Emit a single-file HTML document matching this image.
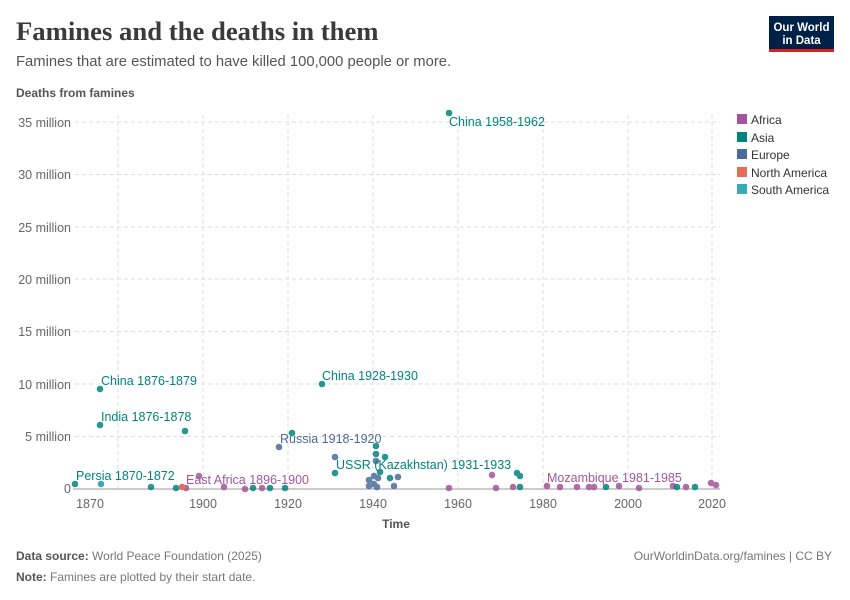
<!DOCTYPE html>
<html><head><meta charset="utf-8"><style>
body{margin:0;background:#fff;}
svg{display:block;font-family:"Liberation Sans",sans-serif;}
</style></head><body>
<svg width="850" height="600" viewBox="0 0 850 600">
<text x="16" y="40" font-family="Liberation Serif,serif" font-size="26.7" font-weight="bold" fill="#3a3a3a">Famines and the deaths in them</text>
<text x="16" y="66" font-size="14.8" fill="#555">Famines that are estimated to have killed 100,000 people or more.</text>
<text x="16" y="97" font-size="12" font-weight="bold" fill="#555">Deaths from famines</text>
<rect x="769" y="16" width="65" height="33" fill="#002147"/>
<rect x="769" y="49" width="65" height="3" fill="#ce261e"/>
<text x="801.5" y="31" font-size="11.5" fill="#fff" text-anchor="middle" font-weight="bold">Our World</text>
<text x="801.5" y="44" font-size="11.5" fill="#fff" text-anchor="middle" font-weight="bold">in Data</text>
<g stroke="#ddd" stroke-dasharray="4,3" stroke-width="1">
<line x1="75" x2="720" y1="122" y2="122"/><line x1="75" x2="720" y1="174.5" y2="174.5"/>
<line x1="75" x2="720" y1="227" y2="227"/><line x1="75" x2="720" y1="279" y2="279"/>
<line x1="75" x2="720" y1="331.5" y2="331.5"/><line x1="75" x2="720" y1="384" y2="384"/>
<line x1="75" x2="720" y1="436.5" y2="436.5"/>
<line x1="118" x2="118" y1="115" y2="489"/><line x1="203" x2="203" y1="115" y2="489"/>
<line x1="288" x2="288" y1="115" y2="489"/><line x1="373" x2="373" y1="115" y2="489"/>
<line x1="458" x2="458" y1="115" y2="489"/><line x1="543" x2="543" y1="115" y2="489"/>
<line x1="628" x2="628" y1="115" y2="489"/><line x1="712" x2="712" y1="115" y2="489"/>
</g>
<line x1="73" x2="720" y1="489" y2="489" stroke="#999"/>
<g font-size="12.5" fill="#666" text-anchor="end">
<text x="71" y="127">35 million</text><text x="71" y="179">30 million</text>
<text x="71" y="232">25 million</text><text x="71" y="284">20 million</text>
<text x="71" y="336">15 million</text><text x="71" y="389">10 million</text>
<text x="71" y="441">5 million</text><text x="71" y="493">0</text>
</g>
<g font-size="12.5" fill="#666" text-anchor="middle">
<text x="90" y="508">1870</text><text x="203" y="508">1900</text><text x="288" y="508">1920</text>
<text x="373" y="508">1940</text><text x="458" y="508">1960</text><text x="543" y="508">1980</text>
<text x="628" y="508">2000</text><text x="712" y="508">2020</text>
</g>
<text x="396" y="528" font-size="12" font-weight="bold" fill="#555" text-anchor="middle">Time</text>
<g fill="#a2559c" opacity="0.85">
<circle cx="199" cy="476" r="3.3"/><circle cx="186" cy="488" r="3.3"/><circle cx="224" cy="487" r="3.3"/><circle cx="245" cy="489" r="3.3"/><circle cx="262" cy="488" r="3.3"/><circle cx="449" cy="488" r="3.3"/><circle cx="492" cy="475" r="3.3"/><circle cx="496" cy="488" r="3.3"/><circle cx="513" cy="487" r="3.3"/><circle cx="547" cy="486" r="3.3"/><circle cx="560" cy="487" r="3.3"/><circle cx="577" cy="487" r="3.3"/><circle cx="589" cy="487" r="3.3"/><circle cx="594" cy="487" r="3.3"/><circle cx="619" cy="486" r="3.3"/><circle cx="639" cy="488" r="3.3"/><circle cx="673" cy="486" r="3.3"/><circle cx="686" cy="487" r="3.3"/><circle cx="711" cy="483" r="3.3"/><circle cx="716" cy="485" r="3.3"/>
</g>
<g fill="#00847e" opacity="0.85">
<circle cx="75" cy="484" r="3.3"/><circle cx="100" cy="389" r="3.3"/><circle cx="100" cy="425" r="3.3"/><circle cx="185" cy="431" r="3.3"/><circle cx="151" cy="487" r="3.3"/><circle cx="176" cy="488" r="3.3"/><circle cx="322" cy="384" r="3.3"/><circle cx="449" cy="113" r="3.3"/><circle cx="335" cy="473" r="3.3"/><circle cx="292" cy="433" r="3.3"/><circle cx="376" cy="446" r="3.3"/><circle cx="376" cy="454" r="3.3"/><circle cx="385" cy="457" r="3.3"/><circle cx="390" cy="478" r="3.3"/><circle cx="380" cy="472" r="3.3"/><circle cx="517" cy="473" r="3.3"/><circle cx="520" cy="476" r="3.3"/><circle cx="520" cy="487" r="3.3"/><circle cx="253" cy="488" r="3.3"/><circle cx="270" cy="488" r="3.3"/><circle cx="285" cy="488" r="3.3"/><circle cx="606" cy="487" r="3.3"/><circle cx="677" cy="487" r="3.3"/><circle cx="695" cy="487" r="3.3"/>
</g>
<g fill="#4c6a9c" opacity="0.85">
<circle cx="279" cy="447" r="3.3"/><circle cx="335" cy="457" r="3.3"/><circle cx="376" cy="461" r="3.3"/><circle cx="374" cy="476" r="3.3"/><circle cx="369" cy="480" r="3.3"/><circle cx="374" cy="484" r="3.3"/><circle cx="369" cy="486" r="3.3"/><circle cx="378" cy="478" r="3.3"/><circle cx="398" cy="477" r="3.3"/><circle cx="394" cy="486" r="3.3"/><circle cx="377" cy="487" r="3.3"/>
</g>
<circle cx="182" cy="487" r="3.3" fill="#e56e5a"/>
<circle cx="101" cy="484" r="3.3" fill="#38aaba"/>
<g font-size="12.5">
<text x="449" y="126" fill="#00847e">China 1958-1962</text>
<text x="101" y="385" fill="#00847e">China 1876-1879</text>
<text x="101" y="421" fill="#00847e">India 1876-1878</text>
<text x="322" y="380" fill="#00847e">China 1928-1930</text>
<text x="280" y="443" fill="#4c6a9c">Russia 1918-1920</text>
<text x="336" y="469" fill="#00847e">USSR (Kazakhstan) 1931-1933</text>
<text x="76" y="480" fill="#00847e">Persia 1870-1872</text>
<text x="186" y="484" fill="#a2559c">East Africa 1896-1900</text>
<text x="547" y="482" fill="#a2559c">Mozambique 1981-1985</text>
</g>
<g font-size="12" fill="#333">
<rect x="737" y="114" width="10" height="10" fill="#a2559c"/><text x="751" y="124">Africa</text>
<rect x="737" y="132" width="10" height="10" fill="#00847e"/><text x="751" y="142">Asia</text>
<rect x="737" y="149" width="10" height="10" fill="#4c6a9c"/><text x="751" y="159">Europe</text>
<rect x="737" y="167" width="10" height="10" fill="#e56e5a"/><text x="751" y="177">North America</text>
<rect x="737" y="184" width="10" height="10" fill="#38aaba"/><text x="751" y="194">South America</text>
</g>
<text x="16" y="560" font-size="12" fill="#777"><tspan font-weight="bold" fill="#555">Data source:</tspan> World Peace Foundation (2025)</text>
<text x="832" y="560" font-size="12" fill="#777" text-anchor="end">OurWorldinData.org/famines | CC BY</text>
<text x="16" y="581" font-size="12" fill="#777"><tspan font-weight="bold" fill="#555">Note:</tspan> Famines are plotted by their start date.</text>
</svg>
</body></html>
